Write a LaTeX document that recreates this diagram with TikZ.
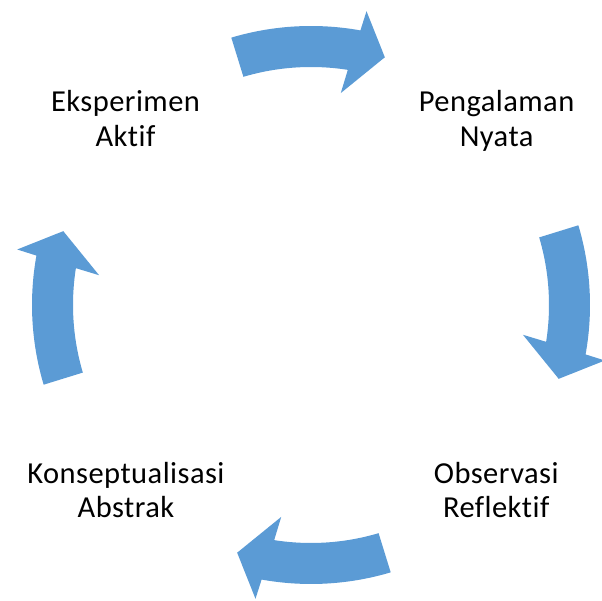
\documentclass[tikz,border=0pt]{standalone}
\usepackage{fontspec}
\setmainfont{Carlito}[Ligatures=NoCommon, LetterSpace=1.5]
\definecolor{cyclblue}{HTML}{5B9BD5}
\tikzset{
  cyclearrow/.style={fill=cyclblue, draw=none},
  lbl/.style={anchor=base, inner sep=0pt, font=\fontsize{30.5}{35}\selectfont, text=black}
}
\begin{document}
\begin{tikzpicture}[x=1pt,y=1pt]
\useasboundingbox (0,0) rectangle (602,601);
\begin{scope}[shift={(311,296)}]
\foreach \t in {90,0,-90,180}{
  \path[cyclearrow]
    (\t+16.6:279pt) arc[start angle=\t+16.6, end angle=\t-10.2, radius=279pt]
    -- (\t-10.7:299pt) -- (\t-16.6:258.5pt) -- (\t-8:214pt) -- (\t-8.9:238pt)
    arc[start angle=\t-8.9, end angle=\t+16.5, radius=238pt] -- cycle;
}
\end{scope}
\node[lbl] (ea1) at (125.5,489.3) {Eksperimen};
\node[lbl] (ea2) at (125.5,454.3) {Aktif};
\node[lbl] (pn1) at (496.6,489.3) {Pengalaman};
\node[lbl] (pn2) at (496.6,454.3) {Nyata};
\node[lbl] (or1) at (496.2,117.7) {Observasi};
\node[lbl] (or2) at (496.2,83.7) {Reflektif};
\node[lbl] (ka1) at (126,117.7) {Konseptualisasi};
\node[lbl] (ka2) at (126,83.7) {Abstrak};
\end{tikzpicture}
\end{document}
